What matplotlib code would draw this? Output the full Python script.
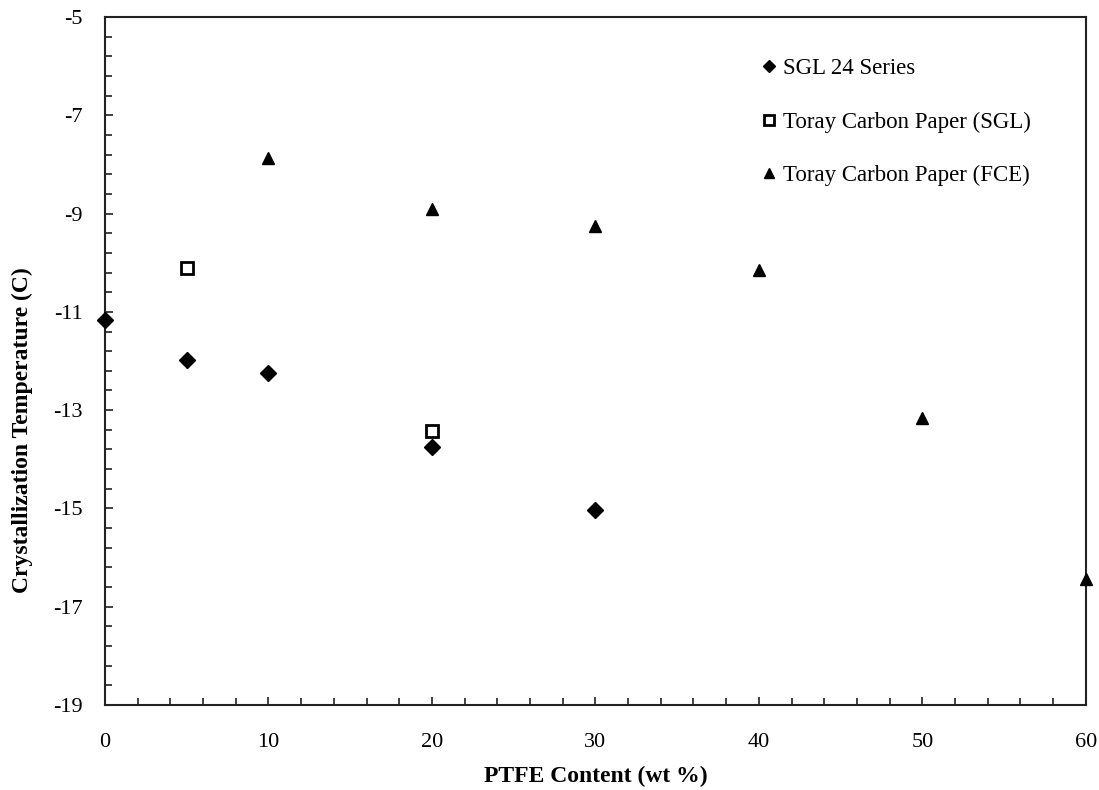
import numpy as np
import matplotlib.pyplot as plt
import matplotlib as mpl
from matplotlib.ticker import FixedLocator

mpl.rcParams['font.family'] = ['Liberation Serif', 'DejaVu Serif']
mpl.rcParams['axes.unicode_minus'] = False

# data
sgl24_x = [0, 5, 10, 20, 30]
sgl24_y = [-11.17, -11.98, -12.24, -13.75, -15.03]

toray_sgl_x = [5, 20]
toray_sgl_y = [-10.11, -13.42]

toray_fce_x = [10, 20, 30, 40, 50, 60]
toray_fce_y = [-7.87, -8.91, -9.25, -10.15, -13.16, -16.44]

labels = ["SGL 24 Series", "Toray Carbon Paper (SGL)", "Toray Carbon Paper (FCE)"]
y_ticks = [-19, -17, -15, -13, -11, -9, -7, -5]
x_ticks = [0, 10, 20, 30, 40, 50, 60]

fig = plt.figure(figsize=(10.99, 7.9), dpi=100)
ax = fig.add_axes([0.0955, 0.1076, 0.8925, 0.8709])

ax.plot(sgl24_x, sgl24_y, linestyle='none', marker='D', markersize=8,
        color='black', label=labels[0], clip_on=False, zorder=3)
ax.plot(toray_sgl_x, toray_sgl_y, linestyle='none', marker='s', markersize=9,
        markerfacecolor='white', markeredgecolor='black', markeredgewidth=2,
        label=labels[1], clip_on=False, zorder=3)
ax.plot(toray_fce_x, toray_fce_y, linestyle='none', marker='^', markersize=9,
        color='black', label=labels[2], clip_on=False, zorder=3)

ax.set_xlim(0, 60)
ax.set_ylim(-19, -5)
ax.set_xticks(x_ticks)
ax.set_yticks(y_ticks)
ax.xaxis.set_minor_locator(FixedLocator(np.arange(0, 60.1, 2)))
ax.yaxis.set_minor_locator(FixedLocator(np.arange(-19, -4.9, 0.4)))

ax.tick_params(which='both', direction='in', width=1.3, colors='#333333',
               labelcolor='black', labelsize=16)
ax.tick_params(which='major', length=6)
ax.tick_params(which='minor', length=5)
ax.tick_params(axis='x', pad=20)
ax.tick_params(axis='y', pad=16)

for s in ax.spines.values():
    s.set_linewidth(1.5)
    s.set_color('#222222')

ax.set_xlabel('PTFE Content (wt %)', fontsize=17, fontweight='bold', labelpad=10)
ax.set_ylabel('Crystallization Temperature (C)', fontsize=17, fontweight='bold')
ax.yaxis.set_label_coords(-0.073, 0.40)

leg = ax.legend(loc='upper left', bbox_to_anchor=(0.649, 0.97), frameon=False,
                fontsize=16.5, handlelength=0.6, handletextpad=0.3,
                labelspacing=1.4, markerscale=0.8)

fig.savefig('out.png', dpi=100)
